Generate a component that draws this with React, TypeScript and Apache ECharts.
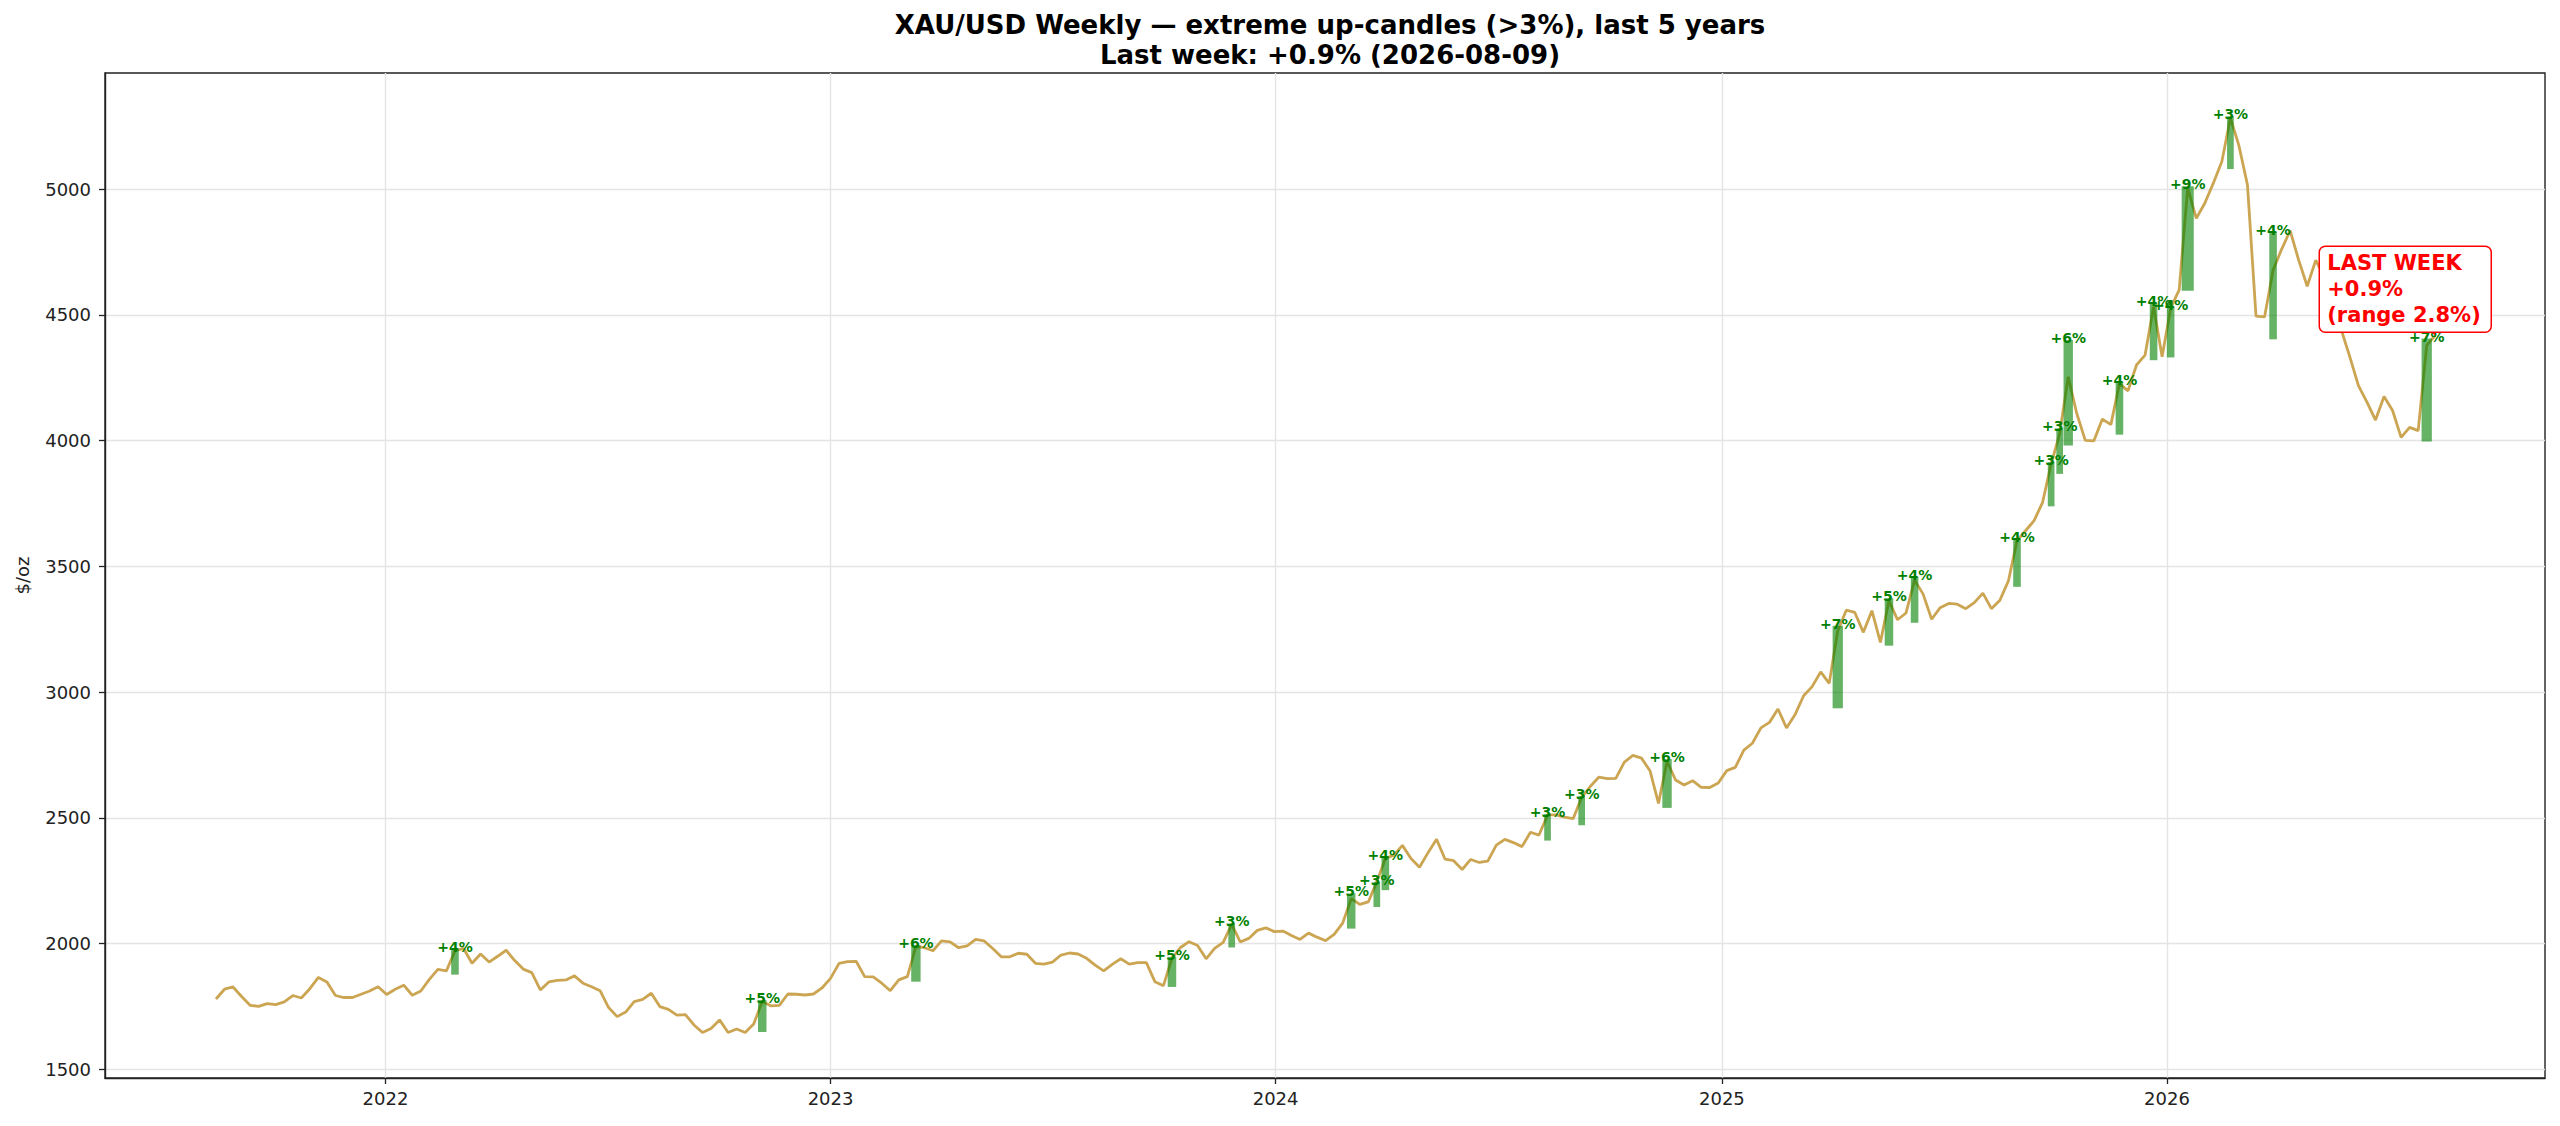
import React, { useEffect, useRef } from "react";
import * as echarts from "echarts";

// Weekly closes (Sundays), 2021-08-15 .. 2026-08-09
const closes: number[] = [
  1780, 1819, 1828, 1790, 1755, 1751, 1762, 1758, 1769, 1794,
  1784, 1821, 1866, 1848, 1794, 1786, 1786, 1799, 1812, 1829,
  1798, 1819, 1835, 1795, 1812, 1858, 1898, 1892, 1972, 1981,
  1922, 1959, 1927, 1950, 1974, 1933, 1899, 1885, 1816, 1848,
  1854, 1856, 1872, 1843, 1829, 1813, 1746, 1710, 1728, 1770,
  1779, 1803, 1750, 1739, 1716, 1718, 1677, 1647, 1663, 1697,
  1647, 1661, 1647, 1681, 1770, 1753, 1755, 1800, 1799, 1796,
  1800, 1824, 1862, 1922, 1929, 1930, 1869, 1868, 1843, 1813,
  1856, 1869, 1988, 1984, 1972, 2011, 2007, 1984, 1991, 2017,
  2011, 1981, 1948, 1948, 1962, 1958, 1922, 1919, 1927, 1955,
  1963, 1959, 1942, 1915, 1892, 1918, 1940, 1919, 1925, 1925,
  1849, 1833, 1942, 1985, 2008, 1993, 1940, 1981, 2005, 2077,
  2007, 2021, 2053, 2063, 2048, 2050, 2033, 2017, 2042, 2026,
  2012, 2037, 2082, 2179, 2156, 2166, 2246, 2339, 2352, 2391,
  2339, 2304, 2362, 2415, 2336, 2330, 2295, 2335, 2323, 2328,
  2392, 2415, 2402, 2386, 2443, 2432, 2512, 2512, 2503, 2497,
  2582, 2625, 2662, 2656, 2657, 2722, 2749, 2738, 2688, 2558,
  2725, 2651, 2631, 2648, 2622, 2621, 2639, 2688, 2701, 2770,
  2797, 2858, 2880, 2933, 2858, 2911, 2986, 3022, 3081, 3035,
  3244, 3326, 3317, 3238, 3324, 3198, 3364, 3288, 3315, 3446,
  3390, 3290, 3336, 3353, 3350, 3332, 3356, 3394, 3332, 3366,
  3443, 3602, 3642, 3682, 3755, 3908, 4028, 4254, 4108, 4001,
  3999, 4086, 4064, 4227, 4198, 4301, 4340, 4533, 4334, 4527,
  4600, 5005, 4884, 4944, 5024, 5110, 5283, 5173, 5017, 4495,
  4492, 4678, 4761, 4835, 4718, 4614, 4718, 4650, 4560, 4440,
  4332, 4219, 4153, 4082, 4176, 4120, 4013, 4053, 4040, 4379,
  4419,
];

// Extreme up-candles (> 3%)
const candleWeek: number[] = [28, 64, 82, 112, 119, 133, 136, 137, 156, 160, 170, 190, 196, 199, 211, 215, 216, 217, 223, 227, 229, 231, 236, 241, 259];
const candleLow: number[] = [1877, 1649, 1849, 1828, 1985, 2060, 2146, 2213, 2410, 2471, 2540, 2936, 3185, 3276, 3419, 3739, 3868, 3981, 4024, 4320, 4331, 4596, 5080, 4403, 3997];
const candleHigh: number[] = [1978, 1776, 1995, 1948, 2081, 2200, 2246, 2343, 2516, 2588, 2734, 3264, 3374, 3459, 3609, 3915, 4050, 4400, 4234, 4547, 4533, 5012, 5290, 4831, 4406];
const candlePct: number[] = [4, 5, 6, 5, 3, 5, 3, 4, 3, 3, 6, 7, 5, 4, 4, 3, 3, 6, 4, 4, 4, 9, 3, 4, 7];

const yTicks: number[] = [1500, 2000, 2500, 3000, 3500, 4000, 4500, 5000];
const xTickYears: number[] = [2022, 2023, 2024, 2025, 2026];

const TITLE = "XAU/USD Weekly — extreme up-candles (>3%), last 5 years\nLast week: +0.9% (2026-08-09)";
const NOTE = "LAST WEEK\n+0.9%\n(range 2.8%)";

const WEEK_MS = 7 * 24 * 3600 * 1000;
const START = Date.UTC(2021, 7, 15);
const FONT = "DejaVu Sans";

export default function App() {
  const ref = useRef<HTMLDivElement>(null);

  useEffect(() => {
    if (!ref.current) return;
    const chart = echarts.init(ref.current, undefined, { renderer: "svg" });
    const dates = closes.map((_, i) => START + i * WEEK_MS);
    const lineData = closes.map((v, i) => [dates[i], v]);
    const candleData = candleWeek.map((w, k) => [dates[w], candleLow[k], candleHigh[k], candlePct[k]]);
    const xTicks = xTickYears.map((y) => Date.UTC(y, 0, 1));

    chart.setOption({
      animation: false,
      backgroundColor: "#ffffff",
      title: {
        text: TITLE,
        left: 1325,
        top: 5,
        textAlign: "center",
        textStyle: { fontFamily: FONT, fontSize: 26, fontWeight: "bold", lineHeight: 30, color: "#000" },
      },
      grid: {
        left: 105,
        right: 15,
        top: 73,
        bottom: 48,
        show: true,
        borderColor: "#222",
        borderWidth: 1.4,
        backgroundColor: "transparent",
      },
      xAxis: {
        type: "value",
        min: Date.UTC(2021, 4, 16),
        max: Date.UTC(2026, 10, 7),
        axisLine: { show: true, onZero: false, lineStyle: { color: "#222", width: 1.4 } },
        axisTick: { show: true, length: 6, customValues: xTicks, lineStyle: { color: "#222", width: 1.3 } },
        axisLabel: {
          customValues: xTicks,
          margin: 11,
          fontFamily: FONT,
          fontSize: 18,
          color: "#222",
          formatter: (v: number) => String(new Date(v).getUTCFullYear()),
        },
        splitLine: { show: true, lineStyle: { color: "#e4e4e4", width: 1.4 } },
      },
      yAxis: {
        type: "value",
        min: 1466,
        max: 5462,
        name: "$/oz",
        nameLocation: "middle",
        nameGap: 74,
        nameTextStyle: { fontFamily: FONT, fontSize: 18, color: "#222" },
        axisLine: { show: true, lineStyle: { color: "#222", width: 1.4 } },
        axisTick: { show: true, length: 6, customValues: yTicks, lineStyle: { color: "#222", width: 1.3 } },
        axisLabel: {
          customValues: yTicks,
          margin: 14,
          fontFamily: FONT,
          fontSize: 18,
          color: "#222",
          formatter: (v: number) => String(Math.round(v)),
        },
        splitLine: { show: true, lineStyle: { color: "#e4e4e4", width: 1.4 } },
      },
      series: [
        {
          type: "line",
          data: lineData,
          symbol: "none",
          z: 2,
          lineStyle: { color: "#CBA552", width: 2.8 },
        },
        {
          type: "custom",
          z: 3,
          data: candleData,
          renderItem: (params: any, api: any) => {
            const x = api.value(0);
            const lo = api.coord([x, api.value(1)]);
            const hi = api.coord([x, api.value(2)]);
            const pct = api.value(3);
            const w = 4 + 0.9 * pct;
            return {
              type: "group",
              children: [
                {
                  type: "rect",
                  shape: { x: lo[0] - w / 2, y: hi[1], width: w, height: lo[1] - hi[1] },
                  style: { fill: "rgba(0,128,0,0.6)" },
                },
                {
                  type: "text",
                  x: hi[0],
                  y: hi[1] - 2,
                  z2: 10,
                  style: {
                    text: "+" + pct + "%",
                    fill: "#008000",
                    font: `bold 14px "${FONT}"`,
                    align: "center",
                    verticalAlign: "middle",
                  },
                },
              ],
            };
          },
        },
      ],
    });

    const last = closes.length - 1;
    const pt = chart.convertToPixel({ gridIndex: 0 }, [dates[last], closes[last]]) as number[];
    const bx = pt[0] - 116;
    const by = pt[1] - 89;
    const tail = [pt[0] - 7, pt[1] - 10];
    const dx = pt[0] - tail[0];
    const dy = pt[1] - tail[1];
    const len = Math.sqrt(dx * dx + dy * dy);
    const ux = dx / len;
    const uy = dy / len;
    const hl = 10;
    const hw = 3.8;
    const bcx = pt[0] - hl * ux;
    const bcy = pt[1] - hl * uy;
    chart.setOption({
      graphic: [
        {
          type: "polygon",
          z: 100,
          shape: {
            points: [
              [pt[0], pt[1]],
              [bcx - hw * uy, bcy + hw * ux],
              [bcx + hw * uy, bcy - hw * ux],
            ],
          },
          style: { fill: "#ff0000" },
        },
        {
          type: "rect",
          z: 101,
          shape: { x: bx, y: by, width: 172, height: 86, r: 6 },
          style: { fill: "#ffffff", stroke: "#ff0000", lineWidth: 1.5 },
        },
        {
          type: "text",
          z: 102,
          x: bx + 8,
          y: by + 4,
          style: {
            text: NOTE,
            fill: "#ff0000",
            font: `bold 21px "${FONT}"`,
            lineHeight: 26,
            align: "left",
            verticalAlign: "top",
          },
        },
      ],
    });

    return () => {
      chart.dispose();
    };
  }, []);

  return (
    <div
      ref={ref}
      style={{ position: "fixed", left: 0, top: 0, width: 2560, height: 1126, background: "#fff" }}
    />
  );
}
